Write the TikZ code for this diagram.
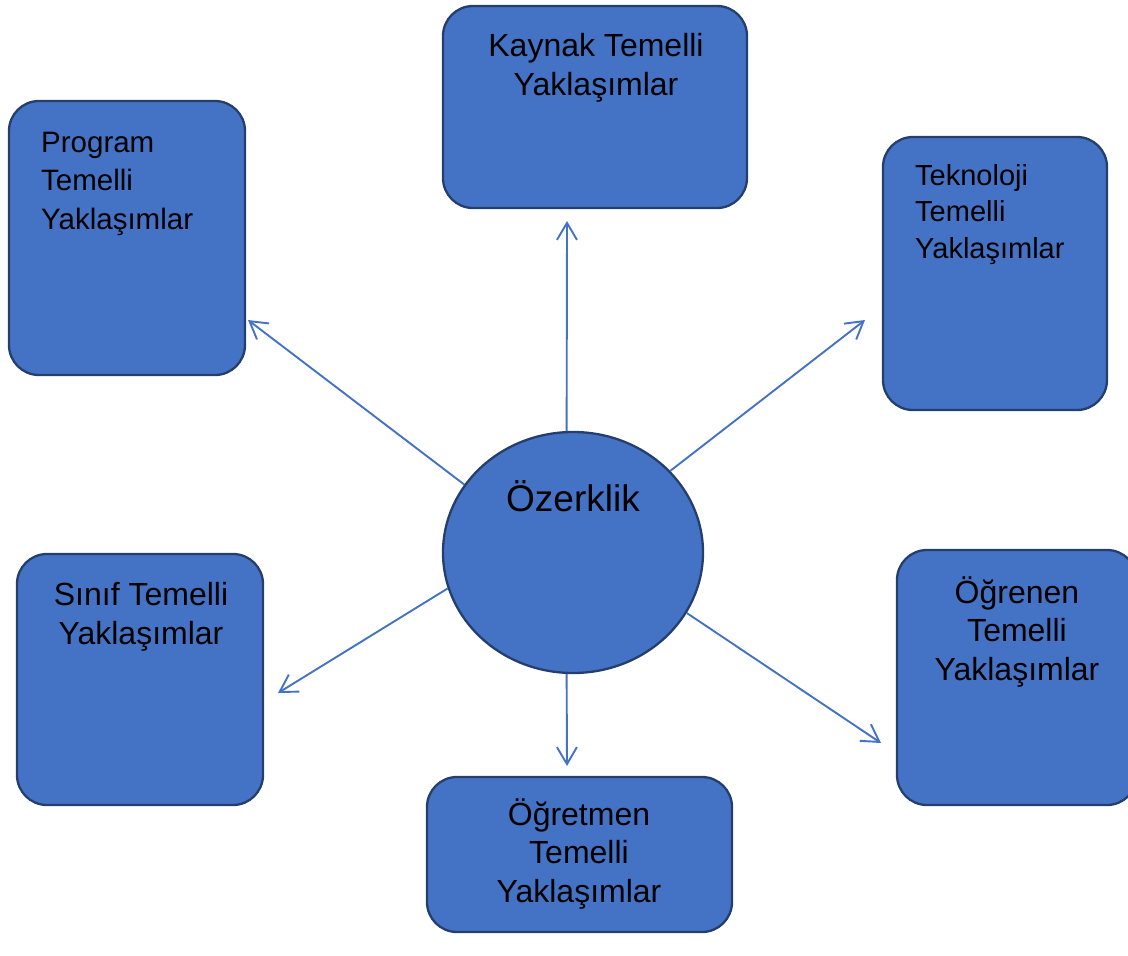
\documentclass[tikz,border=0pt]{standalone}
\usepackage{fontspec}
\setmainfont{Liberation Sans}
\usepackage{tikz}
\usetikzlibrary{arrows.meta,shapes.geometric}

\definecolor{boxblue}{HTML}{4472C4}
\definecolor{boxline}{HTML}{243F6E}
\definecolor{linkblue}{HTML}{4472C4}

\begin{document}
\begin{tikzpicture}[x=1pt,y=-1pt]
        \tikzstyle{box}=[draw=boxline, fill=boxblue, line width=2.3pt, rounded corners=30pt, inner sep=0pt]
        \tikzstyle{txt}=[font=\fontsize{32}{38.5}\selectfont, inner sep=0pt, anchor=base]
        \tikzstyle{link}=[draw=linkblue, line width=1.9pt, -{Straight Barb[length=17pt, width=20pt]}]

        \useasboundingbox (0,0) rectangle (1128,956);

        % boxes
        \node (kaynak)    [box, minimum width=304pt, minimum height=202pt] at (595,107) {};
        \node (program)   [box, minimum width=236pt, minimum height=274pt] at (127,238) {};
        \node (teknoloji) [box, minimum width=224pt, minimum height=273pt] at (995,273.5) {};
        \node (sinif)     [box, minimum width=246pt, minimum height=251pt] at (140,679.5) {};
        \node (ogrenen)   [box, minimum width=240pt, minimum height=255pt] at (1017,677.5) {};
        \node (ogretmen)  [box, minimum width=305pt, minimum height=155pt] at (579.5,854.5) {};
        \node (oz) [ellipse, draw=boxline, fill=boxblue, line width=2.3pt, inner sep=0pt,
                    minimum width=260pt, minimum height=241pt] at (573,552.5) {};

        % texts (anchored at the last line)
        \node (kaynak-t)    [txt, align=center] at (596,95) {Kaynak Temelli\\Yaklaşımlar};
        \node (program-t)   [txt, align=left, anchor=base west, font=\fontsize{29.5}{38.5}\selectfont] at (41,229) {Program\\Temelli\\Yaklaşımlar};
        \node (teknoloji-t) [txt, align=left, anchor=base west, font=\fontsize{29}{36.5}\selectfont] at (915,258) {Teknoloji\\Temelli\\Yaklaşımlar};
        \node (sinif-t)     [txt, align=center] at (141,644) {Sınıf Temelli\\Yaklaşımlar};
        \node (ogrenen-t)   [txt, align=center] at (1017,680) {Öğrenen\\Temelli\\Yaklaşımlar};
        \node (ogretmen-t)  [txt, align=center] at (579,902) {Öğretmen\\Temelli\\Yaklaşımlar};
        \node (oz-t)        [txt, font=\fontsize{37}{44}\selectfont] at (573,511) {Özerklik};

        % arrow ends
        \coordinate (kaynak-end)    at (567,221);
        \coordinate (program-end)   at (248,320);
        \coordinate (teknoloji-end) at (865,320);
        \coordinate (sinif-end)     at (278,693);
        \coordinate (ogrenen-end)   at (881,743);
        \coordinate (ogretmen-end)  at (567,766);

        \draw[link] (oz.93)  -- (kaynak-end);
        \draw[link] (oz.148) -- (program-end);
        \draw[link] (oz.40)  -- (teknoloji-end);
        \draw[link] (oz.196.5) -- (sinif-end);
        \draw[link] (oz.332) -- (ogrenen-end);
        \draw[link] (oz.267) -- (ogretmen-end);

    \end{tikzpicture}
\end{document}
